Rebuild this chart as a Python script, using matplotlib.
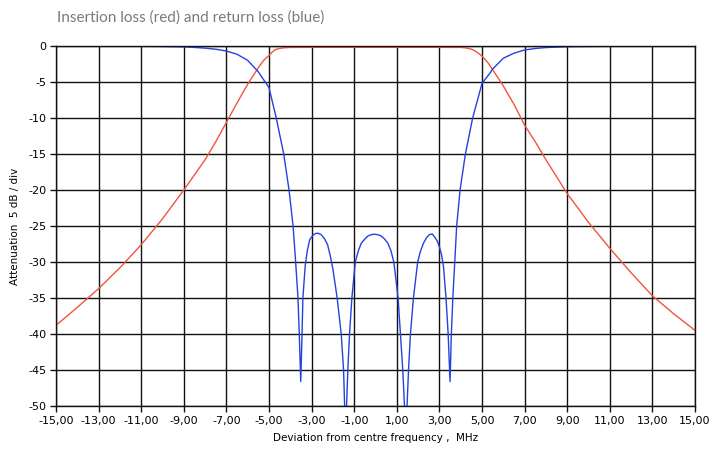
"""
Filter response: insertion loss (red) and return loss (blue).
"""
import matplotlib
matplotlib.use("Agg")
import matplotlib.pyplot as plt

# frequency deviation (MHz) and attenuation (dB)
il_freq = [-15, -14, -13, -12, -11, -10, -9, -8, -7.5, -7, -6.5, -6, -5.5, -5.25,
           -5.0, -4.85, -4.7, -4.5, -4.3, -4.0, -2, 0, 2, 4.0, 4.2, 4.4, 4.55,
           4.7, 4.85, 5.0, 5.15, 5.3, 5.5, 6.0, 6.5, 7.0, 7.5, 8.0, 9, 10, 11,
           12, 13, 14, 15]
il_db = [-38.8, -36.3, -33.7, -30.8, -27.6, -24.0, -20.0, -15.8, -13.3, -10.6,
         -7.9, -5.3, -3.0, -2.0, -1.3, -0.85, -0.5, -0.33, -0.25, -0.2, -0.18,
         -0.18, -0.18, -0.2, -0.25, -0.35, -0.5, -0.75, -1.05, -1.4, -1.9, -2.4,
         -3.3, -5.55, -8.1, -11.0, -13.3, -15.8, -20.5, -24.5, -28.1, -31.5,
         -34.7, -37.2, -39.5]

rl_freq = [-15, -13, -11, -10, -9, -8.5, -8, -7.5, -7, -6.5, -6, -5.5, -5.0,
           -4.66, -4.31, -4.06, -3.87, -3.75, -3.64, -3.58, -3.51, -3.45, -3.41,
           -3.30, -3.20, -3.09, -2.94, -2.82, -2.70, -2.55, -2.39, -2.25, -2.12,
           -2.0, -1.80, -1.61, -1.50, -1.45, -1.40, -1.36, -1.30, -1.22, -1.11,
           -0.95, -0.80, -0.67, -0.50, -0.36, -0.20, -0.05, 0.10, 0.27, 0.42,
           0.58, 0.72, 0.86, 1.06, 1.17, 1.28, 1.36, 1.42, 1.48, 1.55, 1.64,
           1.78, 1.98, 2.10, 2.25, 2.40, 2.53, 2.66, 2.77, 2.90, 3.0, 3.10,
           3.19, 3.31, 3.41, 3.50, 3.56, 3.63, 3.72, 3.81, 3.97, 4.22, 4.56,
           5.0, 5.34, 5.5, 6.0, 6.5, 7.0, 7.5, 8.0, 9, 11, 13, 15]
rl_db = [-0.01, -0.02, -0.04, -0.07, -0.12, -0.2, -0.3, -0.45, -0.7, -1.15,
         -2.0, -3.6, -5.8, -10, -15, -20, -25, -30, -35, -40, -46.6, -40, -35,
         -30.5, -28.4, -26.9, -26.3, -26.05, -26.0, -26.2, -26.8, -27.6, -29.2,
         -31.0, -35, -40, -45, -50, -60, -50, -45, -40, -35, -30, -28.4, -27.4,
         -26.8, -26.4, -26.2, -26.15, -26.2, -26.4, -26.8, -27.4, -28.4, -30,
         -35, -40, -45, -50, -60, -50, -45, -40, -35, -30, -28.6, -27.4, -26.6,
         -26.2, -26.1, -26.5, -27.1, -27.9, -29.0, -30.6, -35, -40, -46.6, -40,
         -35, -30, -25, -20, -15, -10, -5.2, -3.9, -3.2, -1.7, -1.0, -0.55,
         -0.35, -0.22, -0.1, -0.04, -0.02, -0.01]

x_ticks = list(range(-15, 16, 2))
y_ticks = list(range(0, -51, -5))

fig = plt.figure(figsize=(7.2, 4.49), dpi=100)
ax = fig.add_axes([0.0778, 0.0958, 0.8875, 0.8018])

ax.plot(il_freq, il_db, color='#f0553c', linewidth=1.0)
ax.plot(rl_freq, rl_db, color='#2541e0', linewidth=1.0)

ax.set_xlim(-15, 15)
ax.set_ylim(-50, 0)
ax.set_xticks(x_ticks)
ax.set_xticklabels([f"{t:.2f}".replace('.', ',') for t in x_ticks])
ax.set_yticks(y_ticks)
ax.set_yticklabels([str(t) for t in y_ticks])
ax.grid(True, color='#111111', linewidth=1.0)
ax.set_axisbelow(True)
ax.tick_params(axis='both', labelsize=8, length=4, width=1, color='#111111', pad=3)
for s in ax.spines.values():
    s.set_color('#111111')
    s.set_linewidth(1.0)

ax.set_xlabel("Deviation from centre frequency ,  MHz", fontsize=7.5, labelpad=5)
ax.set_ylabel("Attenuation  5 dB / div", fontsize=7.5, labelpad=6)

fig.text(0.079, 0.962, "Insertion loss (red) and return loss (blue)",
         fontsize=11, color='#7a7a7a', family='Lato',
         ha='left', va='center')

fig.savefig("out.png", dpi=100)
plt.close(fig)
